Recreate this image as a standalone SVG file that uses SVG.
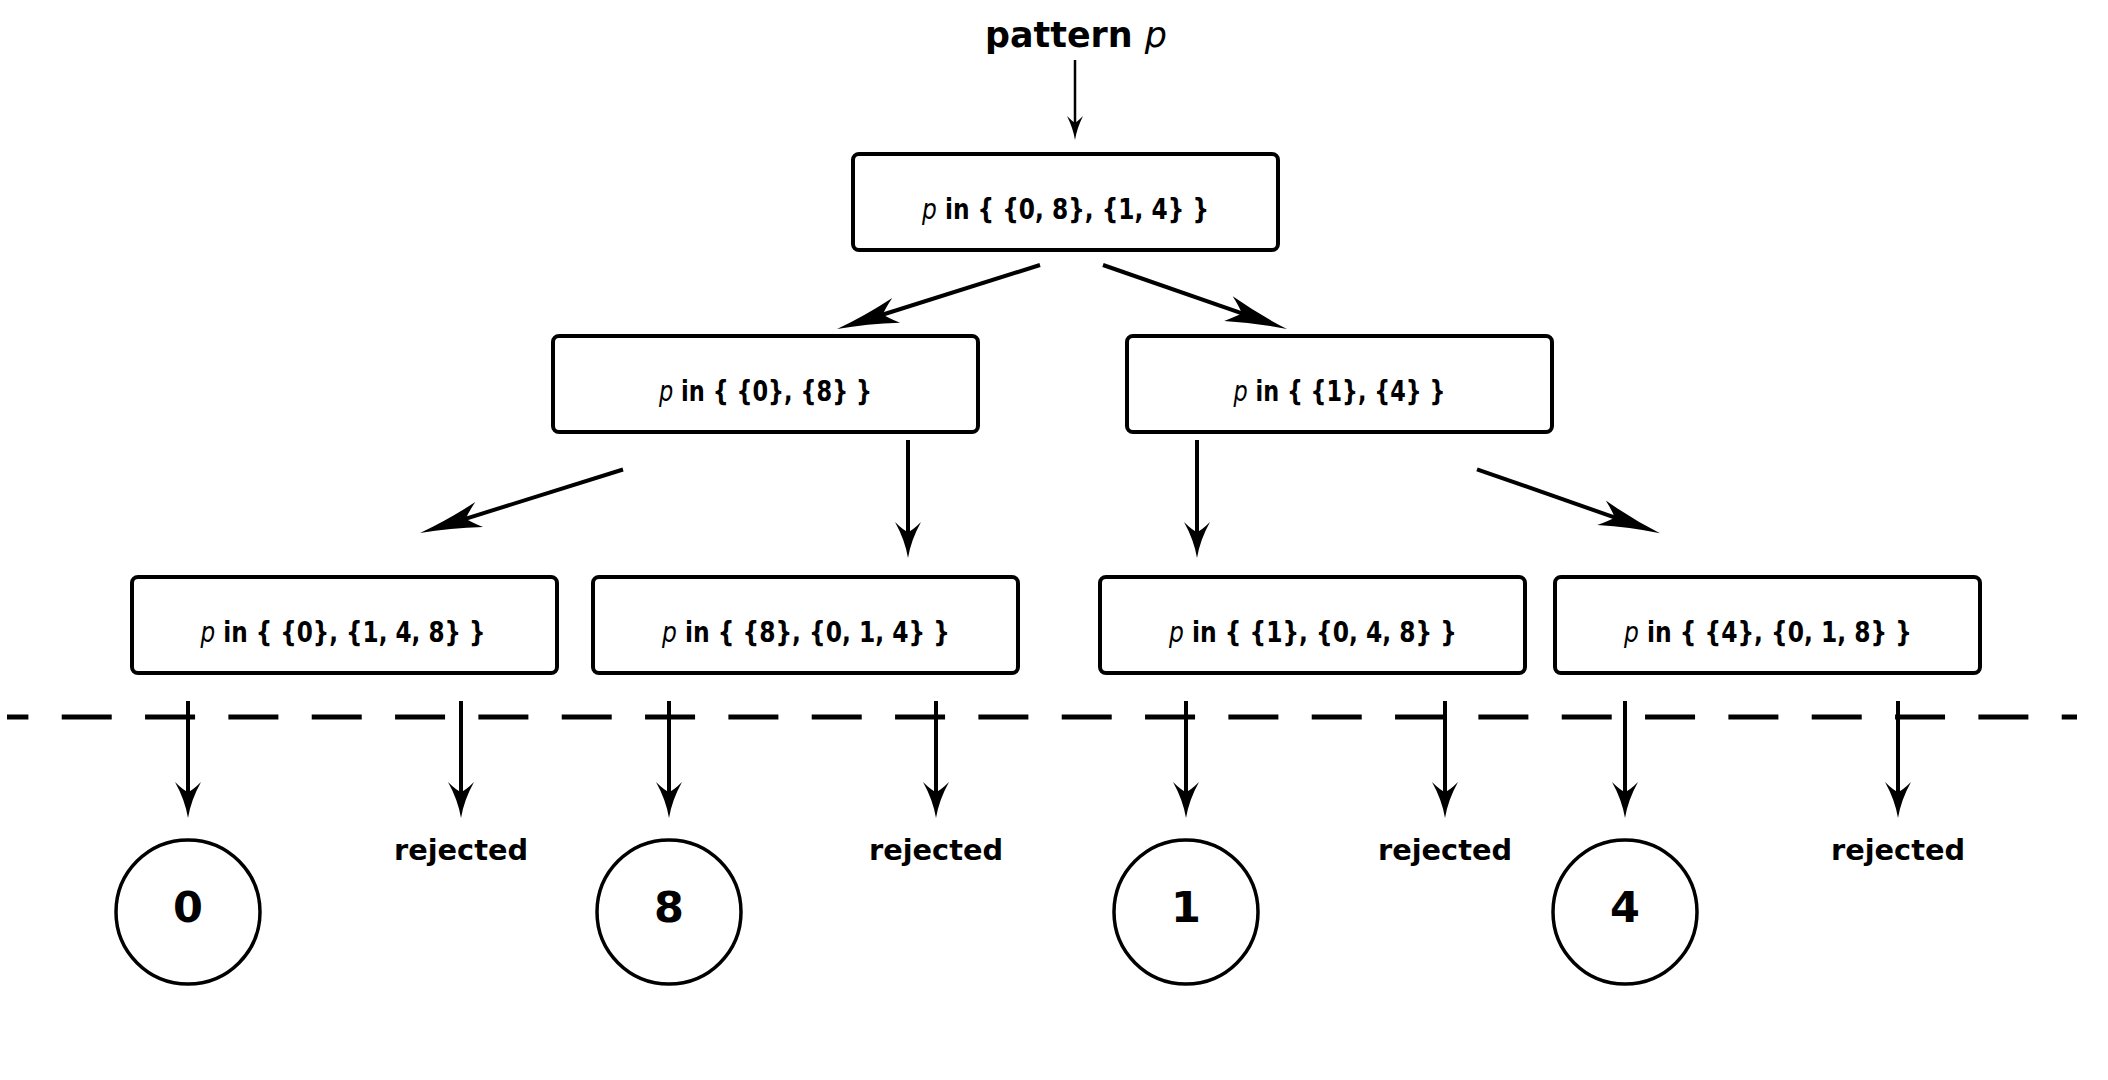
<svg xmlns="http://www.w3.org/2000/svg" width="2108" height="1080" viewBox="0 0 2108 1080">
  <style>
    .box { fill: #ffffff; stroke: #000000; stroke-width: 4; }
    .circ { fill: #ffffff; stroke: #000000; stroke-width: 3.5; }
    .edge { fill: none; stroke: #000000; stroke-width: 4; }
    .thin { fill: none; stroke: #000000; stroke-width: 2.5; }
    .sep { fill: none; stroke: #000000; stroke-width: 5; stroke-dasharray: 50 33.333; stroke-dashoffset: 28.6; }
    .t { font-family: "DejaVu Sans", "Liberation Sans", sans-serif; font-weight: bold; fill: #000000; text-anchor: middle; }
    .lbl { font-size: 28px; }
    .var { font-style: italic; font-weight: normal; }
    .rej { font-size: 29px; }
    .num { font-size: 43px; }
    .title { font-size: 35px; }
  </style>
  <defs>
    <marker id="big" markerUnits="userSpaceOnUse" orient="auto" markerWidth="80" markerHeight="40" refX="0" refY="0" viewBox="-30 -20 80 40" overflow="visible">
      <path d="M40,0 Q10,-4 -22,-13 Q-12,-5 -8,0 Q-12,5 -22,13 Q10,4 40,0 Z" fill="#000"/>
    </marker>
    <marker id="mid" markerUnits="userSpaceOnUse" orient="auto" markerWidth="50" markerHeight="40" refX="0" refY="0" viewBox="-20 -20 50 40" overflow="visible">
      <path d="M22,0 Q4,-3 -14,-13 Q-6,-5 -4,0 Q-6,5 -14,13 Q4,3 22,0 Z" fill="#000"/>
    </marker>
    <marker id="small" markerUnits="userSpaceOnUse" orient="auto" markerWidth="30" markerHeight="20" refX="0" refY="0" viewBox="-12 -10 30 20" overflow="visible">
      <path d="M14,0 Q2,-2 -10,-8 Q-5,-3 -3,0 Q-5,3 -10,8 Q2,2 14,0 Z" fill="#000"/>
    </marker>
  </defs>

  <g id="title">
    <text class="t title" x="1076" y="47" textLength="182" lengthAdjust="spacingAndGlyphs">pattern <tspan class="var">p</tspan></text>
  </g>

  <g id="n-root">
    <rect class="box" x="853" y="154" width="425" height="96" rx="6"/>
    <text class="t lbl" x="1065.5" y="219" textLength="287" lengthAdjust="spacingAndGlyphs"><tspan class="var">p</tspan> in { {0, 8}, {1, 4} }</text>
  </g>

  <g id="n-08">
    <rect class="box" x="553" y="336" width="425" height="96" rx="6"/>
    <text class="t lbl" x="765.5" y="401" textLength="213" lengthAdjust="spacingAndGlyphs"><tspan class="var">p</tspan> in { {0}, {8} }</text>
  </g>
  <g id="n-14">
    <rect class="box" x="1127" y="336" width="425" height="96" rx="6"/>
    <text class="t lbl" x="1339.5" y="401" textLength="212" lengthAdjust="spacingAndGlyphs"><tspan class="var">p</tspan> in { {1}, {4} }</text>
  </g>

  <g id="n-0">
    <rect class="box" x="132" y="577" width="425" height="96" rx="6"/>
    <text class="t lbl" x="343" y="642" textLength="285" lengthAdjust="spacingAndGlyphs"><tspan class="var">p</tspan> in { {0}, {1, 4, 8} }</text>
  </g>
  <g id="n-8">
    <rect class="box" x="593" y="577" width="425" height="96" rx="6"/>
    <text class="t lbl" x="806" y="642" textLength="288" lengthAdjust="spacingAndGlyphs"><tspan class="var">p</tspan> in { {8}, {0, 1, 4} }</text>
  </g>
  <g id="n-1">
    <rect class="box" x="1100" y="577" width="425" height="96" rx="6"/>
    <text class="t lbl" x="1313" y="642" textLength="288" lengthAdjust="spacingAndGlyphs"><tspan class="var">p</tspan> in { {1}, {0, 4, 8} }</text>
  </g>
  <g id="n-4">
    <rect class="box" x="1555" y="577" width="425" height="96" rx="6"/>
    <text class="t lbl" x="1768" y="642" textLength="288" lengthAdjust="spacingAndGlyphs"><tspan class="var">p</tspan> in { {4}, {0, 1, 8} }</text>
  </g>

  <g id="separator">
    <line class="sep" x1="7" y1="717" x2="2077" y2="717"/>
  </g>

  <g id="connectors">
    <path class="thin" d="M1075,60 L1075,126" marker-end="url(#small)"/>
    <path class="edge" d="M1040,265 L875.15,316.97" marker-end="url(#big)"/>
    <path class="edge" d="M1103,265 L1249.22,315.86" marker-end="url(#big)"/>
    <path class="edge" d="M623,469.5 L458.18,521.06" marker-end="url(#big)"/>
    <path class="edge" d="M908,440 L908,536" marker-end="url(#mid)"/>
    <path class="edge" d="M1197,440 L1197,536" marker-end="url(#mid)"/>
    <path class="edge" d="M1477,469.3 L1622.24,520.1" marker-end="url(#big)"/>
    <path class="edge" d="M188,701 L188,796" marker-end="url(#mid)"/>
    <path class="edge" d="M461,701 L461,796" marker-end="url(#mid)"/>
    <path class="edge" d="M669,701 L669,796" marker-end="url(#mid)"/>
    <path class="edge" d="M936,701 L936,796" marker-end="url(#mid)"/>
    <path class="edge" d="M1186,701 L1186,796" marker-end="url(#mid)"/>
    <path class="edge" d="M1445,701 L1445,796" marker-end="url(#mid)"/>
    <path class="edge" d="M1625,701 L1625,796" marker-end="url(#mid)"/>
    <path class="edge" d="M1898,701 L1898,796" marker-end="url(#mid)"/>
  </g>

  <g id="r-0">
    <circle class="circ" cx="188" cy="912" r="72"/>
    <text class="t num" x="188" y="922">0</text>
  </g>
  <g id="rej-0">
    <text class="t rej" x="461" y="860" textLength="134" lengthAdjust="spacingAndGlyphs">rejected</text>
  </g>
  <g id="r-8">
    <circle class="circ" cx="669" cy="912" r="72"/>
    <text class="t num" x="669" y="922">8</text>
  </g>
  <g id="rej-8">
    <text class="t rej" x="936" y="860" textLength="134" lengthAdjust="spacingAndGlyphs">rejected</text>
  </g>
  <g id="r-1">
    <circle class="circ" cx="1186" cy="912" r="72"/>
    <text class="t num" x="1186" y="922">1</text>
  </g>
  <g id="rej-1">
    <text class="t rej" x="1445" y="860" textLength="134" lengthAdjust="spacingAndGlyphs">rejected</text>
  </g>
  <g id="r-4">
    <circle class="circ" cx="1625" cy="912" r="72"/>
    <text class="t num" x="1625" y="922">4</text>
  </g>
  <g id="rej-4">
    <text class="t rej" x="1898" y="860" textLength="134" lengthAdjust="spacingAndGlyphs">rejected</text>
  </g>
</svg>
